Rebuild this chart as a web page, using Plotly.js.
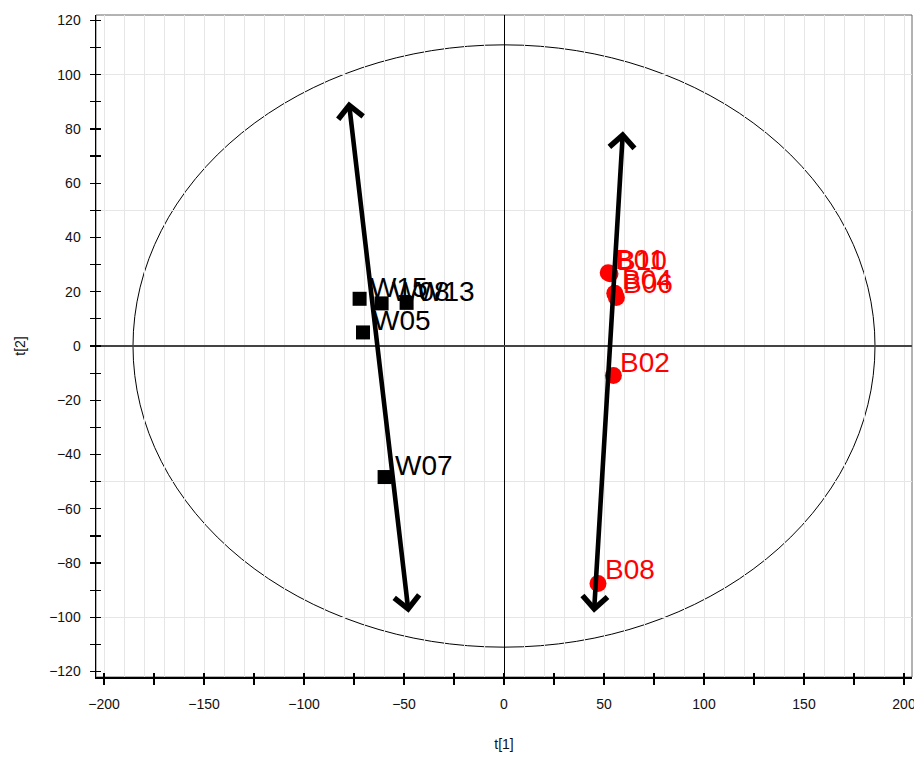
<!DOCTYPE html>
<html>
<head>
<meta charset="utf-8">
<script src="https://cdn.plot.ly/plotly-3.0.1.min.js"></script>
<style>
  html, body { margin: 0; padding: 0; background: #fff; }
  #chart { width: 914px; height: 757px; }
</style>
</head>
<body>
<div id="chart"></div>
<script>
// Score plot: t[1] vs t[2] for the W and B sample groups
const wNames = ['W15', 'W08', 'W13', 'W05', 'W07'];
const wT1 = [-72.2, -61.2, -48.7, -70.5, -59.7];
const wT2 = [17.4, 15.7, 15.9, 5.0, -48.3];

const bNames = ['B01', 'B10', 'B04', 'B06', 'B02', 'B08'];
const bT1 = [52.1, 53.0, 55.4, 56.2, 54.7, 47.0];
const bT2 = [27.0, 26.6, 19.4, 17.9, -10.9, -87.5];

// Double-headed trend arrows, one per group (tail -> head)
const arrowFromT1 = [-77.7, 59.5];
const arrowFromT2 = [90.7, 79.7];
const arrowToT1 = [-47.7, 45.0];
const arrowToT2 = [-98.3, -98.3];

// Hotelling T2 ellipse semi-axes
const ellipseT1 = 185.5;
const ellipseT2 = 111;

// Axis ranges
const t1Range = [-204, 204];
const t2Range = [-122, 122];

const FONT = 'Liberation Sans, Arial, Helvetica, sans-serif';
const GRID = '#e6e6e6';

const traces = [
  // empty traces so the helper axes (grid / inner ticks) get drawn
  { type: 'scatter', mode: 'markers', x: [], y: [], xaxis: 'x2', yaxis: 'y2', hoverinfo: 'skip' },
  { type: 'scatter', mode: 'markers', x: [], y: [], xaxis: 'x3', yaxis: 'y3', hoverinfo: 'skip' },
  {
    type: 'scatter', mode: 'markers',
    x: wT1, y: wT2, text: wNames,
    marker: { symbol: 'square', size: 14, color: '#000' },
    hoverinfo: 'text'
  },
  {
    type: 'scatter', mode: 'markers',
    x: bT1, y: bT2, text: bNames,
    marker: { symbol: 'circle', size: 17, color: '#ff0000' },
    hoverinfo: 'text'
  }
];

const annotations = [];
wNames.forEach((n, i) => annotations.push({
  x: wT1[i], y: wT2[i], xref: 'x', yref: 'y', text: n, showarrow: false,
  xanchor: 'left', yanchor: 'bottom', xshift: 8, yshift: -6,
  font: { family: FONT, size: 28, color: '#000' }
}));
bNames.forEach((n, i) => annotations.push({
  x: bT1[i], y: bT2[i], xref: 'x', yref: 'y', text: n, showarrow: false,
  xanchor: 'left', yanchor: 'bottom', xshift: 5, yshift: -4,
  font: { family: FONT, size: 28, color: '#ff0000' }
}));
arrowToT1.forEach((x, i) => annotations.push({
  x: x, y: arrowToT2[i], ax: arrowFromT1[i], ay: arrowFromT2[i],
  xref: 'x', yref: 'y', axref: 'x', ayref: 'y',
  text: '', showarrow: true, arrowside: 'end+start',
  arrowhead: 4, startarrowhead: 4, arrowsize: 1.05, startarrowsize: 1.05,
  arrowwidth: 4.6, arrowcolor: '#000', font: { size: 2 }
}));

const helperAxis = {
  showline: false, zeroline: false, showticklabels: false, fixedrange: true
};

const layout = {
  width: 914, height: 757,
  margin: { l: 96, r: 2, t: 15, b: 80 },
  paper_bgcolor: '#fff', plot_bgcolor: '#fff',
  showlegend: false,
  font: { family: FONT, color: '#111' },
  xaxis: {
    range: t1Range, dtick: 50, tick0: 0,
    showgrid: false, zeroline: true, zerolinecolor: '#000', zerolinewidth: 1,
    showline: true, linecolor: '#000', linewidth: 1.5,
    ticks: 'outside', ticklen: 6, tickwidth: 1.2, tickcolor: '#000',
    minor: { dtick: 25, ticks: 'outside', ticklen: 6, tickwidth: 1.2, tickcolor: '#000', showgrid: false },
    tickfont: { family: FONT, size: 14, color: '#111' },
    ticklabelstandoff: 8, ticklabeloverflow: 'allow',
    title: { text: 't[1]', font: { family: FONT, size: 14, color: '#111' }, standoff: 28 },
    automargin: false, fixedrange: true
  },
  xaxis2: Object.assign({}, helperAxis, {
    overlaying: 'x', matches: 'x', anchor: 'y2', side: 'bottom',
    dtick: 10, tick0: 0, showgrid: true, gridcolor: GRID, gridwidth: 1, ticks: ''
  }),
  xaxis3: Object.assign({}, helperAxis, {
    overlaying: 'x', matches: 'x', anchor: 'y3', side: 'bottom',
    dtick: 25, tick0: 0, showgrid: false,
    ticks: 'inside', ticklen: 4, tickwidth: 1.2, tickcolor: '#000'
  }),
  yaxis: {
    range: t2Range, dtick: 20, tick0: 0,
    showgrid: false, zeroline: true, zerolinecolor: '#444', zerolinewidth: 1.3,
    showline: true, linecolor: '#000', linewidth: 1.5,
    ticks: 'outside', ticklen: 5, tickwidth: 1.2, tickcolor: '#000',
    minor: { dtick: 10, ticks: 'outside', ticklen: 5, tickwidth: 1.2, tickcolor: '#000', showgrid: false },
    tickfont: { family: FONT, size: 14, color: '#111' },
    ticklabelstandoff: 6, ticklabeloverflow: 'allow',
    title: { text: 't[2]', font: { family: FONT, size: 14, color: '#111' }, standoff: 20 },
    automargin: false, fixedrange: true
  },
  yaxis2: Object.assign({}, helperAxis, {
    overlaying: 'y', matches: 'y', anchor: 'x2', side: 'left',
    dtick: 50, tick0: 0, showgrid: true, gridcolor: GRID, gridwidth: 1, ticks: ''
  }),
  yaxis3: Object.assign({}, helperAxis, {
    overlaying: 'y', matches: 'y', anchor: 'x3', side: 'left',
    dtick: 10, tick0: 0, showgrid: false,
    ticks: 'inside', ticklen: 5, tickwidth: 1.2, tickcolor: '#000'
  }),
  shapes: [
    {
      type: 'rect', xref: 'paper', yref: 'paper', x0: 0, x1: 1, y0: 0, y1: 1,
      line: { color: '#666', width: 1 }, layer: 'below'
    },
    {
      type: 'circle', xref: 'x', yref: 'y',
      x0: -ellipseT1, x1: ellipseT1, y0: -ellipseT2, y1: ellipseT2,
      line: { color: '#000', width: 1 }, layer: 'below'
    }
  ],
  annotations: annotations
};

Plotly.newPlot('chart', traces, layout, { staticPlot: true, displayModeBar: false });
</script>
</body>
</html>
